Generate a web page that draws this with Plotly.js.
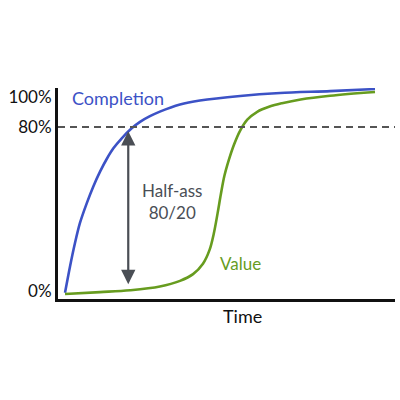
<!DOCTYPE html>
<html>
<head>
<meta charset="utf-8">
<script src="https://cdn.plot.ly/plotly-3.0.1.min.js"></script>
<style>
  html, body { margin: 0; padding: 0; background: #fff; }
  #chart { width: 400px; height: 400px; }
</style>
</head>
<body>
<div id="chart"></div>
<script>
// Time (0..100 of the period) and progress (% of 100)
const completionTime  = [0, 1.6, 3.2, 4.8, 7.0, 9.1, 11.3, 13.5, 15.6, 18.3, 21.5, 24.2, 27.4, 30.6, 37.1, 43.5, 56.5, 69.4, 85.5, 100];
const completionValue = [0.6, 13.1, 24.3, 33.9, 43.4, 51.4, 58.6, 64.8, 69.8, 74.6, 79.4, 82.5, 85.2, 87.4, 90.8, 92.7, 94.9, 96.3, 97.2, 98.2];

const valueTime  = [0, 11.3, 21.0, 30.6, 37.1, 41.3, 44.5, 46.6, 48.0, 49.2, 50.3, 51.4, 52.8, 54.5, 56.5, 58.8, 62.0, 66.0, 70.0, 76.0, 85.5, 100];
const valueValue = [0, 0.9, 1.8, 3.6, 6.3, 9.5, 14.5, 21.0, 29.0, 38.5, 48.0, 56.5, 64.0, 71.5, 78.3, 83.5, 87.3, 89.8, 91.4, 93.2, 95.0, 96.8];

const thresholdLevel = 80;
const arrowTime = 20.4;
const arrowTop = 78.0;
const arrowBottom = 4.0;

const yTickVals = [1.4, 80, 94.4];
const yTickText = ['0%', '80%', '100%'];

const blue = '#3c52c6';
const green = '#679c1f';
const grey = '#4a4e55';
const font = 'Lato, "Open Sans", sans-serif';

const traces = [
  { x: completionTime, y: completionValue, type: 'scatter', mode: 'lines',
    line: { color: blue, width: 2.6, shape: 'spline', smoothing: 0.8 }, hoverinfo: 'skip', cliponaxis: false },
  { x: valueTime, y: valueValue, type: 'scatter', mode: 'lines',
    line: { color: green, width: 2.6, shape: 'spline', smoothing: 1 }, hoverinfo: 'skip', cliponaxis: false }
];

const layout = {
  width: 400, height: 400,
  margin: { l: 58, r: 5, t: 88, b: 101 },
  paper_bgcolor: '#fff', plot_bgcolor: '#fff',
  showlegend: false,
  font: { family: font, color: '#111' },
  xaxis: {
    range: [-2.26, 106.45], showgrid: false, zeroline: false,
    showticklabels: false, ticks: '',
    showline: true, linecolor: '#111', linewidth: 3
  },
  yaxis: {
    range: [-2.4, 98.7], showgrid: false, zeroline: false,
    tickvals: yTickVals, ticktext: yTickText, ticks: '',
    tickfont: { size: 17, color: '#111', family: font },
    showline: true, linecolor: '#111', linewidth: 3
  },
  shapes: [
    { type: 'line', xref: 'paper', x0: 0, x1: 1, yref: 'y', y0: thresholdLevel, y1: thresholdLevel,
      line: { color: '#555', width: 2, dash: '7px,5px' } }
  ],
  annotations: [
    { x: arrowTime, y: arrowTop, ax: arrowTime, ay: arrowBottom, xref: 'x', yref: 'y', axref: 'x', ayref: 'y',
      showarrow: true, arrowhead: 2, startarrowhead: 2, arrowside: 'end+start', arrowsize: 1.3,
      arrowwidth: 2.2, arrowcolor: grey, text: '' },
    { x: 34.5, y: 44.5, xref: 'x', yref: 'y', showarrow: false,
      text: 'Half-ass<br>80/20', font: { size: 17, color: grey, family: font }, align: 'center' },
    { x: 17.1, y: 93.9, xref: 'x', yref: 'y', showarrow: false,
      text: 'Completion', font: { size: 18, color: blue, family: font } },
    { x: 56.5, y: 14.4, xref: 'x', yref: 'y', showarrow: false,
      text: 'Value', font: { size: 17, color: green, family: font } },
    { x: 57.4, y: 0, xref: 'x', yref: 'paper', yanchor: 'top', yshift: -4, showarrow: false,
      text: 'Time', font: { size: 18, color: '#111', family: font } }
  ]
};

Plotly.newPlot('chart', traces, layout, { staticPlot: true, displayModeBar: false });
</script>
</body>
</html>
